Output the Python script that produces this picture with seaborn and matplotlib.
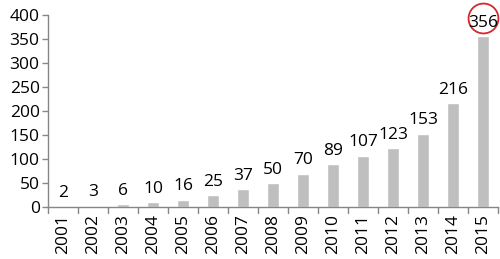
import matplotlib
matplotlib.use("Agg")
import matplotlib.pyplot as plt
import seaborn as sns
import pandas as pd
from matplotlib.transforms import offset_copy

years = [str(y) for y in range(2001, 2016)]
counts = [2, 3, 6, 10, 16, 25, 37, 50, 70, 89, 107, 123, 153, 216, 356]
yticks = [0, 50, 100, 150, 200, 250, 300, 350, 400]

sns.set_style("white")
plt.rcParams['font.family'] = ['Open Sans', 'DejaVu Sans']
plt.rcParams['text.color'] = 'black'
plt.rcParams['xtick.color'] = 'black'
plt.rcParams['ytick.color'] = 'black'

df = pd.DataFrame({"year": years, "count": counts})
fig = plt.figure(figsize=(5, 2.59), dpi=100)
ax = fig.add_axes([0.096, 0.2, 0.9, 0.742])
sns.barplot(data=df, x="year", y="count", color="#BFBFBF", width=0.38,
            saturation=1, ax=ax)
ax.set_ylim(0, 400)
ax.set_xlim(-0.5, len(years) - 0.5)
ax.set_yticks(yticks)
ax.set_yticklabels([str(t) for t in yticks], fontsize=12.5)
ax.set_xlabel("")
ax.set_ylabel("")
ax.set_xticks(range(len(years)))
ax.set_xticklabels(years, rotation=90, fontsize=12.5)
ax.tick_params(axis='x', length=0, pad=5, labelcolor='black')
for b in [i - 0.5 for i in range(len(years) + 1)]:
    ax.plot([b, b], [0, -0.03], transform=ax.get_xaxis_transform(),
            color="#868686", lw=1, clip_on=False)
ax.tick_params(axis='y', length=4, width=1, color="#868686", pad=2,
               direction='out', left=True, labelcolor='black')
for s in ["top", "right"]:
    ax.spines[s].set_visible(False)
for s in ["left", "bottom"]:
    ax.spines[s].set_color("#868686")
    ax.spines[s].set_linewidth(1)

for i, v in enumerate(counts):
    ax.annotate(str(v), (i, v), xytext=(0, 4), textcoords="offset points",
                ha="center", va="bottom", fontsize=12.5, color='black',
                annotation_clip=False)
last = len(counts) - 1
tr = offset_copy(ax.transData, fig=fig, x=0, y=13, units='points')
ax.plot([last], [counts[last]], marker='o', ms=21.5, mfc='none', mec='#D9262B',
        mew=1.3, transform=tr, clip_on=False)

fig.savefig("out.png", dpi=100)
